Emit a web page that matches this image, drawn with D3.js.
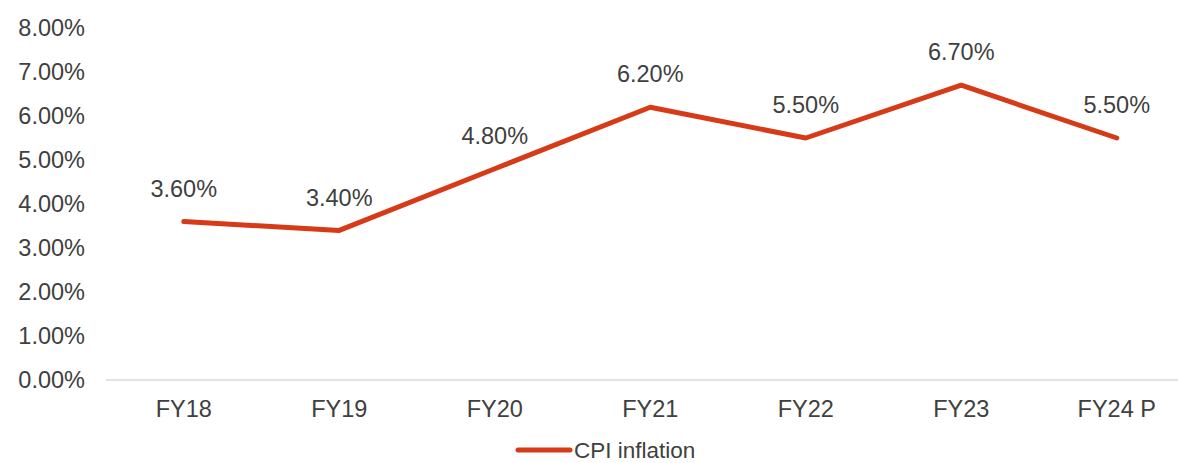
<!DOCTYPE html>
<html lang="en">
<head>
    <meta charset="UTF-8">
    <title>CPI inflation</title>
    <script src="https://d3js.org/d3.v7.min.js"></script>
    <style>
      body{ margin:0; background:#fff; }
      svg text{ font-family:"Liberation Sans", Arial, sans-serif; fill:#404040; font-size:23.5px; }
    </style>
</head>
<body>
    <script>
        const years = ["FY18", "FY19", "FY20", "FY21", "FY22", "FY23", "FY24 P"];
        const cpi = [3.6, 3.4, 4.8, 6.2, 5.5, 6.7, 5.5];
        const yTicks = [0, 1, 2, 3, 4, 5, 6, 7, 8];

        const width = 1178, height = 463;
        const svg = d3.select("body").append("svg")
            .attr("width", width)
            .attr("height", height);

        const x = d3.scaleBand().domain(years).range([106, 1194.5]);
        const y = d3.scaleLinear().domain([0, 8]).range([380, 28]);
        const cx = d => x(d) + x.bandwidth() / 2;

        // y tick labels
        svg.append("g").selectAll("text")
            .data(yTicks)
            .join("text")
            .attr("x", 85)
            .attr("y", d => y(d))
            .attr("dy", "0.35em")
            .attr("text-anchor", "end")
            .text(d => d.toFixed(2) + "%");

        // baseline
        svg.append("line")
            .attr("x1", 106).attr("x2", width)
            .attr("y1", y(0)).attr("y2", y(0))
            .style("stroke", "#d9d9d9")
            .style("stroke-width", 1.5);

        // x labels
        svg.append("g").selectAll("text")
            .data(years)
            .join("text")
            .attr("x", d => cx(d))
            .attr("y", 409)
            .attr("dy", "0.35em")
            .attr("text-anchor", "middle")
            .text(d => d);

        const line = d3.line()
            .x((d, i) => cx(years[i]))
            .y(d => y(d));

        svg.append("path")
            .datum(cpi)
            .attr("d", line)
            .style("fill", "none")
            .style("stroke", "#d63a17")
            .style("stroke-width", 5)
            .style("stroke-linecap", "round")
            .style("stroke-linejoin", "round");

        // data labels
        svg.append("g").selectAll("text")
            .data(cpi)
            .join("text")
            .attr("x", (d, i) => cx(years[i]))
            .attr("y", d => y(d) - 33)
            .attr("dy", "0.35em")
            .attr("text-anchor", "middle")
            .text(d => d.toFixed(2) + "%");

        // legend
        const lg = svg.append("g");
        lg.append("line")
            .attr("x1", 518).attr("x2", 570)
            .attr("y1", 450).attr("y2", 450)
            .style("stroke", "#d63a17")
            .style("stroke-width", 5)
            .style("stroke-linecap", "round");
        lg.append("text")
            .attr("x", 574)
            .attr("y", 450)
            .attr("dy", "0.35em")
            .style("font-size", "22.5px")
            .text("CPI inflation");
    </script>
</body>
</html>
